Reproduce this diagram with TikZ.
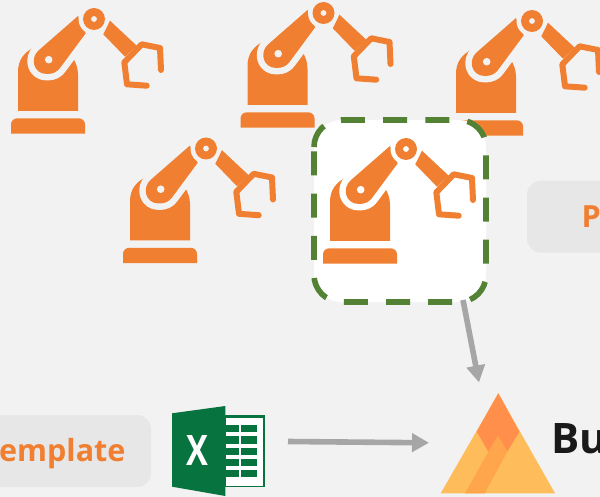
\documentclass[tikz,border=0pt]{standalone}
\usepackage{fontspec}
\setmainfont{Open Sans}
\usetikzlibrary{arrows.meta,calc}
\definecolor{pagebg}{HTML}{F2F2F2}
\definecolor{robotorange}{HTML}{F07F31}
\definecolor{panelgrey}{HTML}{E7E7E7}
\definecolor{focusgreen}{HTML}{548235}
\definecolor{flowgrey}{HTML}{A6A6A6}
\definecolor{xlgreen}{HTML}{07733F}
\definecolor{bucketlight}{HTML}{FFBC5A}
\definecolor{bucketmid}{HTML}{FFA64D}
\definecolor{bucketdark}{HTML}{FF8F4B}
\tikzset{
  x=1pt,y=-1pt,
  flow/.style={draw=flowgrey,line width=5.6pt,-{Triangle[length=17pt,width=18pt]}},
  paneltext/.style={font=\bfseries\fontsize{30.5}{30}\selectfont,text=robotorange,inner sep=0pt,anchor=base west},
  panelbox/.style={fill=panelgrey,rounded corners=14pt},
  robot/.pic={
    \fill[robotorange] (11,133.6) -- (11,124.4) .. controls (11,121) and (13.7,118.4) .. (17,118.4) -- (79,118.4) .. controls (82.3,118.4) and (85,121) .. (85,124.4) -- (85,133.6) -- cycle;
    \fill[robotorange] (18,111) -- (18,72) .. controls (18,60) and (24,52) .. (35,47) -- (73,58) .. controls (76,63) and (78,68) .. (78,75) -- (78,111) -- cycle;
    \fill[\robothalo,draw=\robothalo,line width=13pt,line join=round]
      (78,16) -- (38.5,50.5) .. controls (30,58) and (33,74) .. (47,74) .. controls (53,74) and (57,72) .. (60,68) -- (85.7,33.3) -- cycle;
    \fill[robotorange]
      (78,16) -- (38.5,50.5) .. controls (30,58) and (33,74) .. (47,74) .. controls (53,74) and (57,72) .. (60,68) -- (85.7,33.3) -- cycle;
    \fill[\robothalo] (94,19) circle (15.5);
    \fill[robotorange] (94,19) circle (11);
    \fill[\robothalo] (94,19) circle (2.9);
    \fill[\robothalo] (48.7,59.7) circle (3.8);
    \fill[robotorange] (110,20.7) -- (103.3,34.3) -- (125,56.7) -- (136.7,45.7) -- cycle;
    \draw[robotorange,line width=6pt,line cap=round,line join=round]
      (161,70) -- (160,48) -- (141.7,44.3) -- (124.3,62.3) -- (127,84.3) -- (146.7,85.7);
  }
}
\begin{document}
\begin{tikzpicture}
\useasboundingbox (0,0) rectangle (600,497);
\fill[pagebg] (0,0) rectangle (600,497);
% panels
\fill[panelbox] (527,180.7) rectangle (640,252.7);
\node[paneltext] (plabel) at (581.5,228) {P};
\fill[panelbox] (-40,415) rectangle (151,487);
\node[paneltext] (templatelabel) at (-1,461.5) {emplate};
% robots
\def\robothalo{pagebg}
\pic at (0,0) {robot};
\pic at (229.5,-6) {robot};
\pic at (438,2) {robot};
\pic at (112,129.5) {robot};
% highlighted robot
\node[fill=white,rounded corners=27pt,minimum width=172pt,minimum height=182pt,inner sep=0pt,outer sep=0pt] (focus) at (400,211) {};
\def\robothalo{white}
\pic at (312,130) {robot};
\draw[focusgreen,line width=5.6pt,dash pattern=on 24pt off 18.2pt]
  (314,147) .. controls (314,132.1) and (326.1,120) .. (341,120) -- (459,120)
  .. controls (473.9,120) and (486,132.1) .. (486,147) -- (486,275)
  .. controls (486,289.9) and (473.9,302) .. (459,302) -- (341,302)
  .. controls (326.1,302) and (314,289.9) .. (314,275) -- cycle;
% excel
\fill[xlgreen] (225,415) rectangle (264.6,487);
\fill[white] (225.5,418.3) rectangle (262.7,485.8);
\foreach \ya/\yb in {424.7/432.3,436/443.6,447.5/455,458.5/466,469.5/477.3}{
  \fill[xlgreen] (225.5,\ya) rectangle (239,\yb);
  \fill[xlgreen] (241,\ya) rectangle (256.7,\yb);
}
\fill[xlgreen] (172,413.3) -- (225.3,406) -- (225.3,496) -- (172,486.7) -- cycle;
\node[font=\bfseries\fontsize{42}{42}\selectfont,text=white,inner sep=0pt,xscale=.78] (xlx) at (197.7,451) {X};
% bucket logo
\fill[bucketlight] (498.3,393.3) -- (555,493.3) -- (440.7,493.3) -- cycle;
\fill[bucketdark] (498.3,393.3) -- (519.3,431.7) -- (507.3,451.7) -- (498,436) -- (488.3,451.7) -- (476.7,431.7) -- cycle;
\fill[bucketmid] (498,436) -- (507.3,451.7) -- (484.7,493.3) -- (465,493.3) -- (488.3,451.7) -- cycle;
\node[font=\bfseries\fontsize{42}{42}\selectfont,text=black!90,inner sep=0pt,anchor=base west] (bucketname) at (551,453) {Bu};
% connectors
\coordinate (focusout) at ($(focus.south)+(63,-2)$);
\coordinate (bucketin) at (479,382.5);
\coordinate (xlout) at (288,441.5);
\coordinate (bucketleft) at (429,442.8);
\draw[flow] (focusout) -- (bucketin);
\draw[flow] (xlout) -- (bucketleft);
\end{tikzpicture}
\end{document}
